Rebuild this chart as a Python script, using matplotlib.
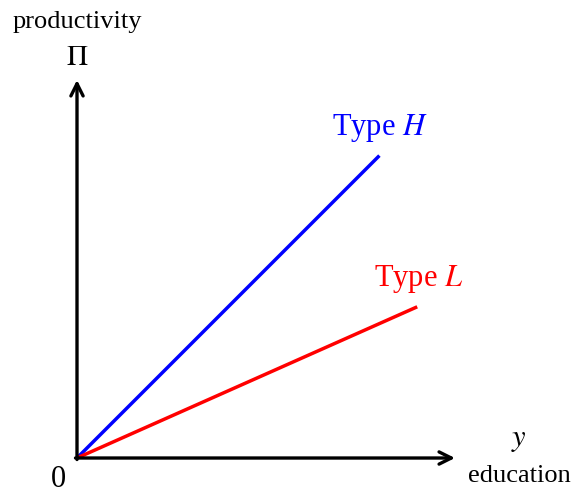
import matplotlib
matplotlib.use("Agg")
import matplotlib.pyplot as plt

plt.rcParams['font.family'] = ['Liberation Serif', 'DejaVu Serif']
plt.rcParams['mathtext.fontset'] = 'stix'

# Productivity lines: education y -> productivity
types = ["H", "L"]
colors = ["blue", "red"]
x_end = [8.0, 9.0]
y_end = [8.0, 4.0]

x_axis_max = 10.0
y_axis_max = 10.0

fig = plt.figure(figsize=(5.72, 4.96), dpi=100)
ax = fig.add_axes([0, 0, 1, 1])
ax.set_xlim(-2.037, 13.095)
ax.set_ylim(-1.005, 12.116)
ax.axis('off')

# axes with arrow heads
arrow = dict(arrowstyle='->', lw=2.4, color='black', mutation_scale=22,
             shrinkA=0, shrinkB=0)
ax.annotate('', xy=(x_axis_max, 0), xytext=(-0.04, 0), arrowprops=arrow)
ax.annotate('', xy=(0, y_axis_max), xytext=(0, -0.04), arrowprops=arrow)

for t, c, xe, ye in zip(types, colors, x_end, y_end):
    ax.plot([0, xe], [0, ye], color=c, lw=2.5, solid_capstyle='butt')

ax.text(8.0, 8.73, r"Type $H$", color='blue', fontsize=22, ha='center', va='center')
ax.text(9.05, 4.74, r"Type $L$", color='red', fontsize=22, ha='center', va='center')

ax.text(0, 11.53, "productivity", fontsize=19, ha='center', va='center')
ax.text(0, 10.58, r"$\Pi$", fontsize=21, ha='center', va='center')
ax.text(-0.5, -0.58, "0", fontsize=22, ha='center', va='center')
ax.text(11.69, 0.48, r"$y$", fontsize=22, ha='center', va='center')
ax.text(11.69, -0.48, "education", fontsize=19, ha='center', va='center')

fig.savefig("out.png", dpi=100)
